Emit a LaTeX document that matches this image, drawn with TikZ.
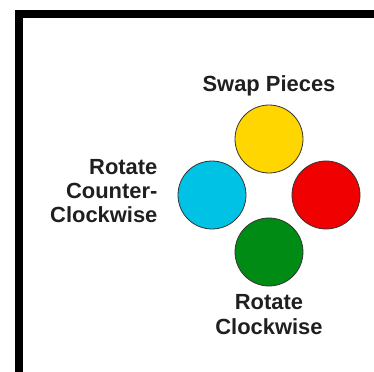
\documentclass[tikz,border=0pt]{standalone}
\usepackage{fontspec}
\setmainfont{Liberation Sans}
\usetikzlibrary{positioning}

\definecolor{btnYellow}{RGB}{255,214,0}
\definecolor{btnCyan}{RGB}{0,194,228}
\definecolor{btnRed}{RGB}{240,0,0}
\definecolor{btnGreen}{RGB}{0,140,20}

\begin{document}
\begin{tikzpicture}[x=1bp, y=1bp,
  btn/.style={circle, draw=black!80, line width=0.8bp, minimum size=68bp, inner sep=0pt},
  lbl/.style={font=\fontsize{22}{24.5}\selectfont\bfseries, align=center, inner sep=0pt, text=black!88}]
  \useasboundingbox (0,0) rectangle (374,372);
  % frame, cut off on the right and at the bottom
  \draw[line width=8bp] (19,358) rectangle (430,-40);

  \node[btn, fill=btnYellow] (swapBtn) at (269,233) {};
  \node[btn, fill=btnCyan] (ccwBtn) at (212,177) {};
  \node[btn, fill=btnRed] (redBtn) at (326,177) {};
  \node[btn, fill=btnGreen] (cwBtn) at (269,120) {};

  \node[lbl, above=8bp of swapBtn] (swapLbl) {Swap Pieces};
  \node[lbl, align=right, left=20bp of ccwBtn, yshift=4bp] (ccwLbl) {Rotate\\Counter-\\Clockwise};
  \node[lbl, below=8bp of cwBtn] (cwLbl) {Rotate\\Clockwise};
\end{tikzpicture}
\end{document}
